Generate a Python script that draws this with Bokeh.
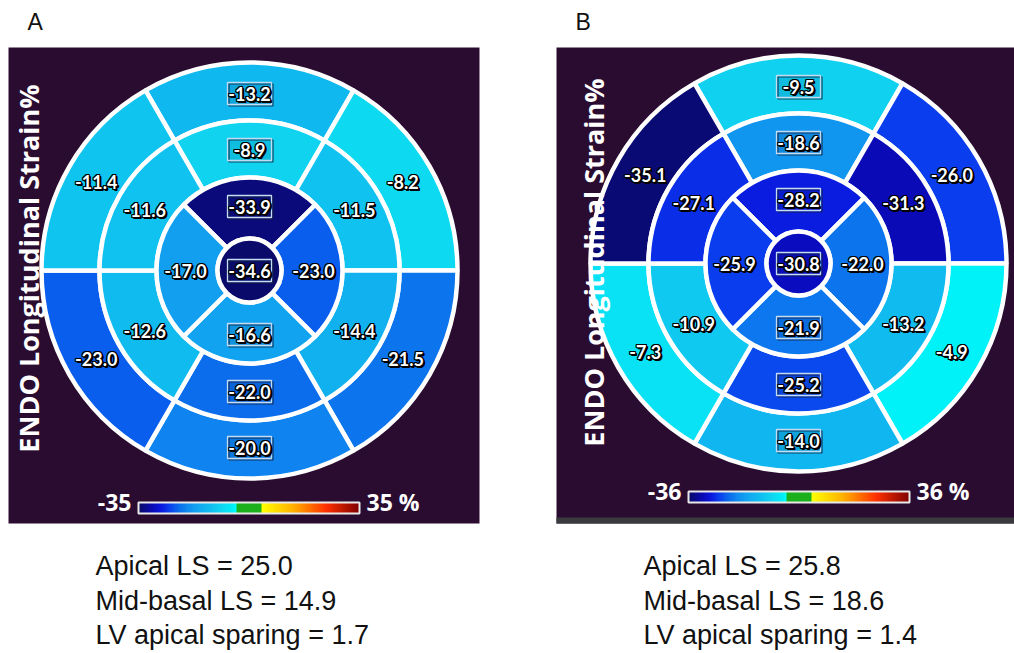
import numpy as np
from bokeh.plotting import figure
from bokeh.models import ColumnDataSource, LinearColorMapper, Range1d
from bokeh.transform import transform
from bokeh.core.properties import value
from bokeh.embed import file_html
from bokeh.resources import INLINE

# ---------------- data ----------------
segments6 = ["anterior", "anterolateral", "inferolateral", "inferior", "inferoseptal", "anteroseptal"]
segments4 = ["anterior", "lateral", "inferior", "septal"]

A_basal = [-13.2, -8.2, -21.5, -20.0, -23.0, -11.4]
A_mid = [-8.9, -11.5, -14.4, -22.0, -12.6, -11.6]
A_apical = [-33.9, -23.0, -16.6, -17.0]
A_apex = -34.6
A_scale = 35

B_basal = [-9.5, -26.0, -4.9, -14.0, -7.3, -35.1]
B_mid = [-18.6, -31.3, -13.2, -25.2, -10.9, -27.1]
B_apical = [-28.2, -22.0, -21.9, -25.9]
B_apex = -30.8
B_scale = 36

A_summary = ["Apical LS = 25.0", "Mid-basal LS = 14.9", "LV apical sparing = 1.7"]
B_summary = ["Apical LS = 25.8", "Mid-basal LS = 18.6", "LV apical sparing = 1.4"]
panel_letters = ["A", "B"]
title_text = "ENDO Longitudinal Strain%"

# ---------------- style / geometry ----------------
W, H = 1014, 653
def X(xi): return xi
def Y(yi): return H - yi

ang6 = {"anterior": (60, 120), "anterolateral": (0, 60), "inferolateral": (300, 360),
        "inferior": (240, 300), "inferoseptal": (180, 240), "anteroseptal": (120, 180)}
ang4 = {"anterior": (45, 135), "lateral": (-45, 45), "inferior": (225, 315), "septal": (135, 225)}
boxed = {"anterior", "inferior"}

R_OUT, R_BM, R_MA, R_APEX = 208, 150, 93, 32
BG = "#2b0c31"

stops = [(0.000, "#0a0a66"), (0.060, "#0a0ab4"), (0.100, "#0a16de"), (0.140, "#0a40ee"),
         (0.180, "#0a6aec"), (0.220, "#108af0"), (0.260, "#12a2f0"), (0.320, "#10bcf0"),
         (0.375, "#10d4f0"), (0.430, "#00f0f8"), (0.440, "#00ffff"), (0.445, "#1cb01c"),
         (0.555, "#1cb01c"), (0.560, "#ffff00"), (0.700, "#ffb000"), (0.850, "#ff3000"),
         (1.000, "#800000")]

def hex2rgb(h):
    h = h.lstrip("#")
    return [int(h[i:i + 2], 16) for i in (0, 2, 4)]

def build_palette(n=256):
    fs = [s[0] for s in stops]
    cs = np.array([hex2rgb(s[1]) for s in stops], dtype=float)
    out = []
    for t in np.linspace(0, 1, n):
        r = np.interp(t, fs, cs[:, 0]); g = np.interp(t, fs, cs[:, 1]); b = np.interp(t, fs, cs[:, 2])
        out.append("#%02x%02x%02x" % (int(round(r)), int(round(g)), int(round(b))))
    return out

palette = build_palette()

p = figure(width=W, height=H, output_backend="svg", toolbar_location=None,
           x_range=Range1d(0, W), y_range=Range1d(0, H),
           x_axis_location=None, y_axis_location=None, min_border=0)
p.grid.visible = False
p.outline_line_color = None
p.background_fill_color = "white"
p.border_fill_color = "white"

NUM_FONT = value("Lato")
BOLD_FONT = value("Open Sans")
offsets = [(-1, -1), (0, -1), (1, -1), (-1, 0), (1, 0), (-1, 1), (0, 1), (1, 1),
           (2, 1), (1, 2), (2, 2)]

def outlined_text(src, size, font, align="center"):
    for dx, dy in offsets:
        p.text(x="x", y="y", text="text", source=src, x_offset=dx, y_offset=dy,
               text_color="black", text_font=font, text_font_style="bold",
               text_font_size=size, text_align=align, text_baseline="middle")
    p.text(x="x", y="y", text="text", source=src, text_color="white", text_font=font,
           text_font_style="bold", text_font_size=size, text_align=align, text_baseline="middle")

def panel(bg, cx, cy, basal, mid, apical, apex, scale, letter, letter_xy, title_xy,
          bar, summary, summary_x, strip=None):
    mapper = LinearColorMapper(palette=palette, low=-scale, high=scale)
    x0, y0, x1, y1 = bg
    p.quad(left=X(x0), right=X(x1), top=Y(y0), bottom=Y(y1), fill_color=BG, line_color=None)
    if strip:
        p.quad(left=X(x0), right=X(x1), top=Y(strip[0]), bottom=Y(strip[1]),
               fill_color="#3b3a3c", line_color=None)
    rows = dict(x=[], y=[], r0=[], r1=[], a0=[], a1=[], v=[])
    labels = dict(x=[], y=[], text=[])
    boxes = dict(x=[], y=[], xs=[], ys=[])
    rings = [(basal, segments6, ang6, R_BM, R_OUT, 177),
             (mid, segments6, ang6, R_MA, R_BM, 121),
             (apical, segments4, ang4, R_APEX, R_MA, 64)]
    for vals, names, angs, r0, r1, rl in rings:
        for v, n in zip(vals, names):
            a0, a1 = angs[n]
            rows["x"].append(X(cx)); rows["y"].append(Y(cy))
            rows["r0"].append(r0); rows["r1"].append(r1)
            rows["a0"].append(np.deg2rad(a0)); rows["a1"].append(np.deg2rad(a1))
            rows["v"].append(v)
            am = np.deg2rad((a0 + a1) / 2)
            lx = X(cx) + rl * np.cos(am); ly = Y(cy) + rl * np.sin(am)
            labels["x"].append(lx); labels["y"].append(ly); labels["text"].append("%.1f" % v)
            if n in boxed:
                boxes["x"].append(lx); boxes["y"].append(ly)
                boxes["xs"].append(lx + 1.5); boxes["ys"].append(ly - 1.5)
    src = ColumnDataSource(rows)
    p.annular_wedge(x="x", y="y", inner_radius="r0", outer_radius="r1",
                    start_angle="a0", end_angle="a1", source=src,
                    fill_color=transform("v", mapper), line_color="white", line_width=4.5)
    asrc = ColumnDataSource(dict(x=[X(cx)], y=[Y(cy)], v=[apex]))
    p.circle(x="x", y="y", radius=R_APEX, source=asrc, fill_color=transform("v", mapper),
             line_color="white", line_width=4.5)
    labels["x"].append(X(cx)); labels["y"].append(Y(cy)); labels["text"].append("%.1f" % apex)
    boxes["x"].append(X(cx)); boxes["y"].append(Y(cy))
    boxes["xs"].append(X(cx) + 1.5); boxes["ys"].append(Y(cy) - 1.5)
    bsrc = ColumnDataSource(boxes)
    p.rect(x="xs", y="ys", width=44, height=22, source=bsrc,
           fill_color=None, line_color="#14203a", line_alpha=0.8, line_width=1.2)
    p.rect(x="x", y="y", width=44, height=22, source=bsrc,
           fill_color="#0a2060", fill_alpha=0.12, line_color="#c4dcf2", line_width=1.3)
    outlined_text(ColumnDataSource(labels), "18px", NUM_FONT)
    p.text(x=[X(title_xy[0])], y=[Y(title_xy[1])], text=[title_text], angle=np.pi / 2,
           text_color="white", text_font=BOLD_FONT, text_font_style="bold",
           text_font_size="27px", text_align="center", text_baseline="middle")
    bx0, by0, bx1, by1 = bar
    grad = np.linspace(-scale, scale, 256).reshape(1, 256)
    p.image(image=[grad], x=X(bx0), y=Y(by1), dw=bx1 - bx0, dh=by1 - by0, color_mapper=mapper)
    p.quad(left=X(bx0), right=X(bx1), top=Y(by0), bottom=Y(by1), fill_color=None,
           line_color="#e8e8e8", line_width=2)
    cyb = (by0 + by1) / 2 - 6
    p.text(x=[X(bx0 - 7)], y=[Y(cyb)], text=["-%d" % scale], text_color="white",
           text_font=BOLD_FONT, text_font_style="bold", text_font_size="23px",
           text_align="right", text_baseline="middle")
    p.text(x=[X(bx1 + 7)], y=[Y(cyb)], text=["%d %%" % scale], text_color="white",
           text_font=BOLD_FONT, text_font_style="bold", text_font_size="23px",
           text_align="left", text_baseline="middle")
    p.text(x=[X(letter_xy[0])], y=[Y(letter_xy[1])], text=[letter], text_color="#111111",
           text_font=value("Liberation Sans"), text_font_size="23px",
           text_align="left", text_baseline="middle")
    ys = [565, 600, 634]
    p.text(x=[X(summary_x)] * 3, y=[Y(v) for v in ys], text=summary, text_color="#111111",
           text_font=value("Liberation Sans"), text_font_size="27px",
           text_align="left", text_baseline="middle")

panel((8, 47, 479, 523), 249, 270, A_basal, A_mid, A_apical, A_apex, A_scale,
      panel_letters[0], (27, 21), (28, 268), (138, 502, 359, 513), A_summary, 95)
panel((556, 47, 1014, 523), 798, 263, B_basal, B_mid, B_apical, B_apex, B_scale,
      panel_letters[1], (575, 21), (593, 262), (688, 491, 909, 502), B_summary, 643,
      strip=(517, 523))

open("out.html", "w").write(file_html(p, INLINE))
